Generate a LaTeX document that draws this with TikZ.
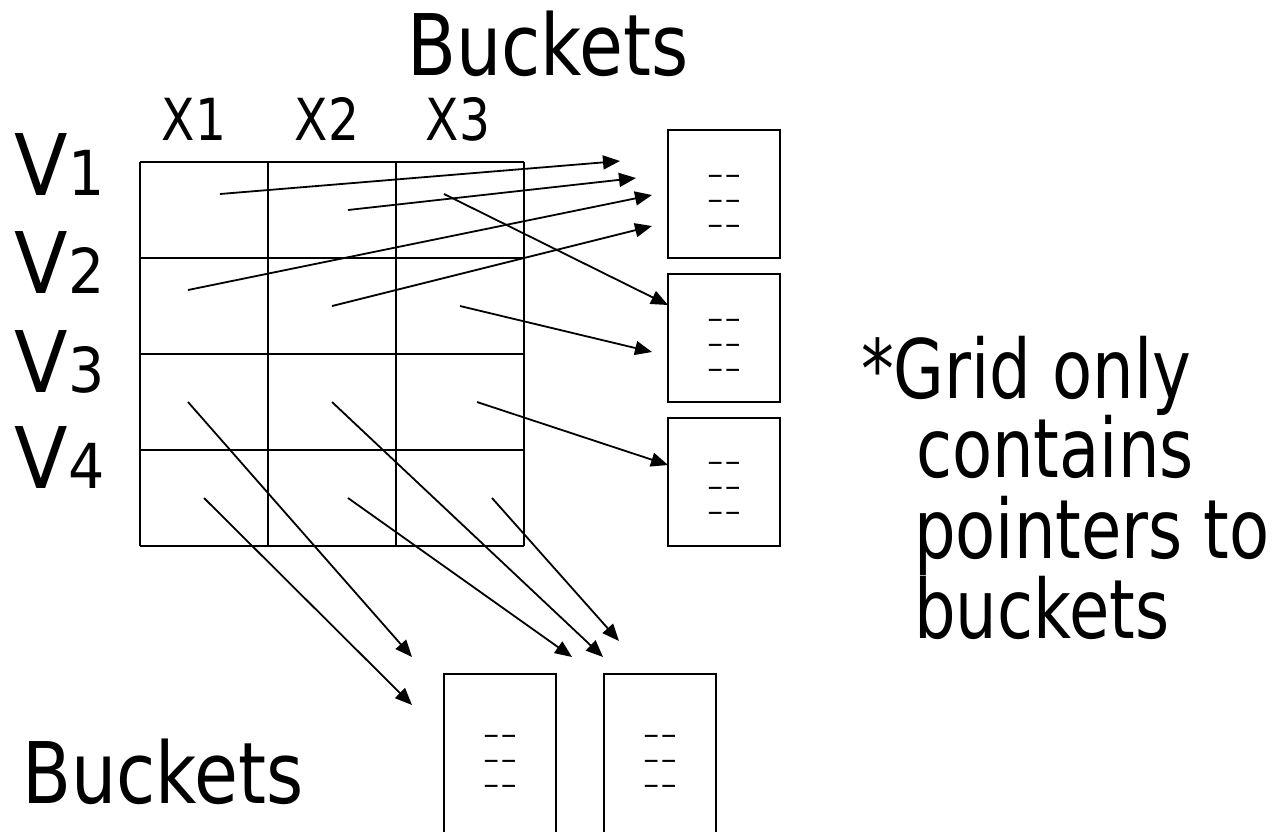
\documentclass[tikz,border=0pt]{standalone}
\usepackage{fontspec}
\setmainfont{DejaVu Sans}[FakeStretch=0.84]
\newfontfamily\notefont{DejaVu Sans}[FakeStretch=0.80]
\newfontfamily\rowfont{DejaVu Sans}[FakeStretch=0.92]
\newfontfamily\dashfont{DejaVu Sans}[FakeStretch=1.85]
\usetikzlibrary{arrows.meta}
\begin{document}
\begin{tikzpicture}[x=0.5pt,y=-0.5pt,
  txt/.style={inner sep=0pt, outer sep=0pt},
  title/.style={txt, anchor=base, font=\fontsize{42.5pt}{50pt}\selectfont},
  collabel/.style={txt, anchor=base, font=\fontsize{29pt}{35pt}\selectfont},
  rowlabel/.style={txt, anchor=base west, font=\rowfont\fontsize{42.5pt}{50pt}\selectfont},
  note/.style={txt, anchor=base west, font=\notefont\fontsize{41pt}{48pt}\selectfont},
  gridline/.style={line width=1pt},
  ptr/.style={line width=0.9pt, -{Triangle[length=8.5pt,width=7pt]}},
  bucket/.style={draw, line width=1pt, minimum width=56pt, inner sep=0pt},
  rbucket/.style={bucket, minimum height=64pt},
  bbucket/.style={bucket, minimum height=88pt},
  dashes/.style={txt, align=center, font=\dashfont\fontsize{13pt}{12.5pt}\selectfont},
]
\useasboundingbox (0,0) rectangle (1272,831);
\clip (0,0) rectangle (1272,831);
\newcommand{\dd}{\mbox{-}\mbox{-}\\\mbox{-}\mbox{-}\\\mbox{-}\mbox{-}}

% titles
\node[title] (topB) at (548,75) {Buckets};
\node[title] (botB) at (163,803) {Buckets};

% column labels
\node[collabel] (x1) at (194,140) {X1};
\node[collabel] (x2) at (327,140) {X2};
\node[collabel] (x3) at (458,140) {X3};

% row labels
\node[rowlabel] (v1) at (14,195) {V\fontsize{31pt}{36pt}\selectfont\kern0.5pt 1};
\node[rowlabel] (v2) at (14,293) {V\fontsize{31pt}{36pt}\selectfont\kern0.5pt 2};
\node[rowlabel] (v3) at (14,392) {V\fontsize{31pt}{36pt}\selectfont\kern0.5pt 3};
\node[rowlabel] (v4) at (14,488) {V\fontsize{31pt}{36pt}\selectfont\kern0.5pt 4};

% grid
\foreach \x in {140,268,396,524} \draw[gridline] (\x,162) -- (\x,546);
\foreach \y in {162,258,354,450,546} \draw[gridline] (140,\y) -- (524,\y);

% buckets on the right
\node[rbucket] (r1) at (724,193.5) {};
\node[rbucket] (r2) at (724,338) {};
\node[rbucket] (r3) at (724,482) {};
\node[dashes] (r1t) at (724,204) {\dd};
\node[dashes] (r2t) at (724,348) {\dd};
\node[dashes] (r3t) at (724,491) {\dd};

% buckets at the bottom
\node[bbucket] (b1) at (500,762) {};
\node[bbucket] (b2) at (660,762) {};
\node[dashes] (b1t) at (500,764) {\dd};
\node[dashes] (b2t) at (660,764) {\dd};

% pointer start points (inside cells)
\coordinate (s1) at (220,194);
\coordinate (s2) at (348,210);
\coordinate (s3) at (188,290);
\coordinate (s4) at (332,306);
\coordinate (s5) at (444,194);
\coordinate (s6) at (460,306);
\coordinate (s7) at (477,402);
\coordinate (s8) at (188,402);
\coordinate (s9) at (204,498);
\coordinate (s10) at (332,402);
\coordinate (s11) at (348,498);
\coordinate (s12) at (492,498);

% pointer end points
\coordinate (e1) at (620,161);
\coordinate (e2) at (636,178);
\coordinate (e3) at (652,195);
\coordinate (e4) at (652,226);
\coordinate (e5) at (668,305);
\coordinate (e6) at (652,352);
\coordinate (e7) at (668,465);
\coordinate (e8) at (412,657);
\coordinate (e9) at (412,705);
\coordinate (e10) at (603,657);
\coordinate (e11) at (572,657);
\coordinate (e12) at (619,641);

\foreach \i in {1,...,12} \draw[ptr] (s\i) -- (e\i);

% note
\node[note] (n1) at (861,398) {*Grid only};
\node[note] (n2) at (916,477) {contains};
\node[note] (n3) at (914,558) {pointers to};
\node[note] (n4) at (914,638) {buckets};
\end{tikzpicture}
\end{document}
